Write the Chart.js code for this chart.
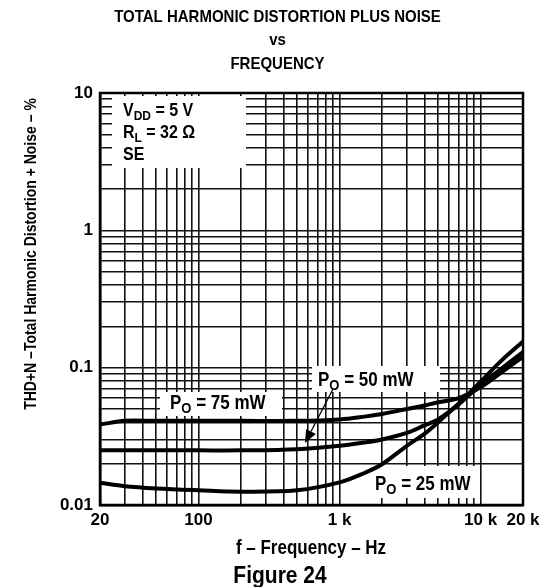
<!DOCTYPE html>
<html>
<head>
<meta charset="utf-8">
<title>THD+N vs Frequency</title>
<script src="https://cdn.jsdelivr.net/npm/chart.js@4.4.0/dist/chart.umd.min.js"></script>
<style>
  html, body { margin: 0; padding: 0; background: #fff; }
  #wrap { width: 555px; height: 587px; }
</style>
</head>
<body>
<div id="wrap"><canvas id="thdChart" width="555" height="587"></canvas></div>
<script>
/* ---------- data ---------- */
const freqHz = [20, 30, 50, 100, 200, 500, 1000, 1500, 2000, 3000, 4000, 5000, 7000, 10000, 14000, 20000];
const thd75mW = [0.0385, 0.041, 0.041, 0.041, 0.041, 0.041, 0.042, 0.044, 0.046, 0.050, 0.053, 0.056, 0.060, 0.072, 0.092, 0.12];
const thd50mW = [0.025, 0.025, 0.025, 0.025, 0.025, 0.0255, 0.027, 0.0285, 0.030, 0.0335, 0.038, 0.042, 0.054, 0.075, 0.098, 0.13];
const thd25mW = [0.0145, 0.0137, 0.0132, 0.0128, 0.0125, 0.0128, 0.0146, 0.0171, 0.0198, 0.027, 0.033, 0.040, 0.055, 0.079, 0.112, 0.155];

const xLabelValues = [20, 100, 1000, 10000, 20000];
const xLabelText = ["20", "100", "1 k", "10 k", "20 k"];
const yLabelValues = [0.01, 0.1, 1, 10];
const yLabelText = ["0.01", "0.1", "1", "10"];

const FONT = '"Liberation Sans", Arial, Helvetica, sans-serif';
const STRETCH = 1.14; // the original lettering is taller than Arial

// full log grid: 1..9 in each decade
function logGrid(min, max) {
  const out = [];
  for (let d = Math.pow(10, Math.floor(Math.log10(min))); d <= max; d *= 10) {
    for (let m = 1; m <= 9; m++) {
      const v = Number((m * d).toPrecision(6));
      if (v >= min - 1e-12 && v <= max + 1e-12) out.push(v);
    }
  }
  return out;
}

function labelFor(values, texts, v) {
  const i = values.findIndex((x) => Math.abs(x - v) / x < 1e-6);
  return i >= 0 ? texts[i] : "";
}

function toPoints(ys) {
  return freqHz.map((f, i) => ({ x: f, y: ys[i] }));
}

function curve(label, ys) {
  return {
    label: label,
    data: toPoints(ys),
    borderColor: "#000",
    borderWidth: 4,
    pointRadius: 0,
    fill: false,
    tension: 0.35,
  };
}

function tallText(ctx, text, x, y) {
  ctx.save();
  ctx.translate(x, y);
  ctx.scale(1, STRETCH);
  ctx.fillText(text, 0, 0);
  ctx.restore();
}

// text with a subscript part, e.g. [["P"], ["O", true], [" = 75 mW"]]
function drawParts(ctx, x, y, parts, size) {
  let cx = x;
  parts.forEach((p) => {
    const sub = !!p[1];
    ctx.font = "bold " + (sub ? Math.round(size * 0.78) : size) + "px " + FONT;
    tallText(ctx, p[0], cx, sub ? y + 4 : y);
    cx += ctx.measureText(p[0]).width;
  });
}

const figureText = {
  id: "figureText",
  beforeDatasetsDraw(chart) {
    const ctx = chart.ctx;
    ctx.save();
    ctx.fillStyle = "#fff";
    // label boxes that hide the grid
    [
      [112, 96, 246, 168],
      [160, 392, 282, 416],
      [312, 366, 440, 392],
      [345, 466, 478, 498],
    ].forEach((b) => ctx.fillRect(b[0], b[1], b[2] - b[0], b[3] - b[1]));
    ctx.restore();
  },
  afterDatasetsDraw(chart) {
    const ctx = chart.ctx;
    const a = chart.chartArea;
    ctx.save();

    // frame
    ctx.strokeStyle = "#000";
    ctx.lineWidth = 2.5;
    ctx.strokeRect(a.left, a.top, a.right - a.left, a.bottom - a.top);

    ctx.fillStyle = "#000";
    ctx.textBaseline = "alphabetic";
    ctx.textAlign = "left";

    drawParts(ctx, 123, 116, [["V"], ["DD", true], [" = 5 V"]], 16);
    drawParts(ctx, 123, 138, [["R"], ["L", true], [" = 32 \u03A9"]], 16);
    drawParts(ctx, 123, 160, [["SE"]], 16);

    drawParts(ctx, 170, 409, [["P"], ["O", true], [" = 75 mW"]], 17);
    drawParts(ctx, 318, 386, [["P"], ["O", true], [" = 50 mW"]], 17);
    drawParts(ctx, 375, 490, [["P"], ["O", true], [" = 25 mW"]], 17);

    // arrow from the 50 mW label
    const tail = [333, 389];
    const tip = [305, 443];
    const dx = tip[0] - tail[0];
    const dy = tip[1] - tail[1];
    const len = Math.hypot(dx, dy);
    const ux = dx / len;
    const uy = dy / len;
    const bx = tip[0] - ux * 13;
    const by = tip[1] - uy * 13;
    ctx.lineWidth = 1.3;
    ctx.beginPath();
    ctx.moveTo(tail[0], tail[1]);
    ctx.lineTo(bx, by);
    ctx.stroke();
    ctx.beginPath();
    ctx.moveTo(tip[0], tip[1]);
    ctx.lineTo(bx + uy * 5.5, by - ux * 5.5);
    ctx.lineTo(bx - uy * 5.5, by + ux * 5.5);
    ctx.closePath();
    ctx.fill();

    ctx.restore();
  },
  afterDraw(chart) {
    const ctx = chart.ctx;
    ctx.save();
    ctx.fillStyle = "#000";
    ctx.textAlign = "center";
    ctx.textBaseline = "alphabetic";

    ctx.font = "bold 15px " + FONT;
    tallText(ctx, "TOTAL HARMONIC DISTORTION PLUS NOISE", 277.5, 22);
    tallText(ctx, "vs", 277.5, 45);
    tallText(ctx, "FREQUENCY", 277.5, 69);

    ctx.font = "bold 17px " + FONT;
    tallText(ctx, "f \u2013 Frequency \u2013 Hz", 311, 554);

    ctx.font = "bold 21px " + FONT;
    tallText(ctx, "Figure 24", 280, 583);

    // y axis title, rotated; stretch across the letters' height
    ctx.translate(36, 254);
    ctx.rotate(-Math.PI / 2);
    ctx.scale(1, STRETCH);
    ctx.font = "bold 14px " + FONT;
    ctx.fillText("THD+N \u2013Total Harmonic Distortion + Noise \u2013 %", 0, 0);
    ctx.restore();
  },
};

const gridStyle = { color: "#111", lineWidth: 1.6, drawTicks: false };

new Chart(document.getElementById("thdChart"), {
  type: "line",
  data: {
    datasets: [curve("PO = 75 mW", thd75mW), curve("PO = 50 mW", thd50mW), curve("PO = 25 mW", thd25mW)],
  },
  options: {
    responsive: false,
    animation: false,
    devicePixelRatio: 1,
    layout: { padding: { top: 93, right: 32, left: 0, bottom: 0 } },
    plugins: { legend: { display: false }, tooltip: { enabled: false }, title: { display: false } },
    scales: {
      x: {
        type: "logarithmic",
        min: 20,
        max: 20000,
        grid: gridStyle,
        border: { display: true, color: "#000", width: 2.5 },
        afterBuildTicks: (scale) => {
          scale.ticks = logGrid(20, 20000).map((v) => ({ value: v }));
        },
        afterFit: (scale) => {
          scale.height = 82;
        },
        ticks: {
          autoSkip: false,
          maxRotation: 0,
          padding: 5,
          color: "#000",
          font: { family: FONT, size: 17, weight: "bold" },
          callback: (value) => labelFor(xLabelValues, xLabelText, value),
        },
      },
      y: {
        type: "logarithmic",
        min: 0.01,
        max: 10,
        grid: gridStyle,
        border: { display: true, color: "#000", width: 2.5 },
        afterBuildTicks: (scale) => {
          scale.ticks = logGrid(0.01, 10).map((v) => ({ value: v }));
        },
        afterFit: (scale) => {
          scale.width = 100;
        },
        ticks: {
          autoSkip: false,
          padding: 7,
          color: "#000",
          font: { family: FONT, size: 17, weight: "bold" },
          callback: (value) => labelFor(yLabelValues, yLabelText, value),
        },
      },
    },
  },
  plugins: [figureText],
});
</script>
</body>
</html>
